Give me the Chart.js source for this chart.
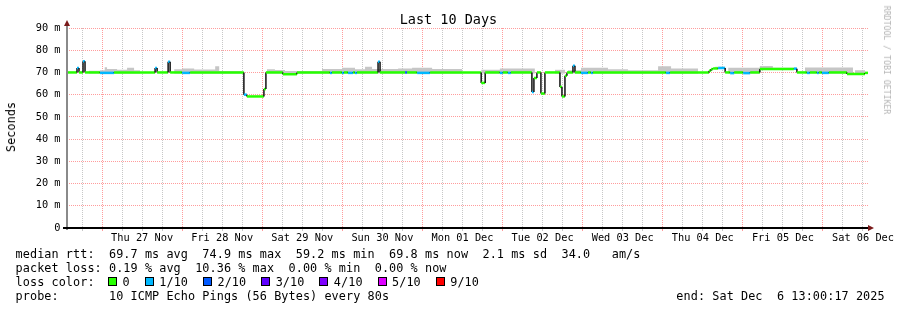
<!DOCTYPE html>
<html><head><meta charset="utf-8">
<script src="https://cdn.jsdelivr.net/npm/chart.js@4/dist/chart.umd.min.js"></script>
<style>
html,body{margin:0;padding:0;background:#fff;}
#wrap{position:relative;width:897px;height:310px;overflow:hidden;background:#fff;}
#c{position:absolute;left:0;top:0;}
.t{position:absolute;font-family:'DejaVu Sans Mono',monospace;white-space:pre;color:#000;letter-spacing:0.08px;}
.box{position:absolute;width:7px;height:7px;border:1px solid #000;}
</style></head><body>
<div id="wrap">
<canvas id="c" width="897" height="310"></canvas>
<div class="t" id="title" style="left:0;width:897px;top:11px;text-align:center;font-size:13.5px;line-height:16px;letter-spacing:0;">Last 10 Days</div>
<div class="t" id="ytitle" style="left:11px;top:127px;font-size:11.8px;line-height:14px;transform:translate(-50%,-50%) rotate(-90deg);">Seconds</div>
<div class="t" id="credit" style="left:887px;top:60px;font-size:8.2px;line-height:10px;color:#b4b4b4;letter-spacing:0;transform:translate(-50%,-50%) rotate(90deg);">RRDTOOL / TOBI OETIKER</div>
<div class="t" id="legend" style="left:15.6px;top:247px;font-size:11.8px;line-height:14px;"></div>
<div id="losslegend"></div>
</div>
<script>
// ---------- data (hours since Thu 27 Nov 00:00) ----------
const dayLabels = ['Thu 27 Nov','Fri 28 Nov','Sat 29 Nov','Sun 30 Nov','Mon 01 Dec','Tue 02 Dec','Wed 03 Dec','Thu 04 Dec','Fri 05 Dec','Sat 06 Dec'];
const yTickLabels = ['0','10 m','20 m','30 m','40 m','50 m','60 m','70 m','80 m','90 m'];
const timeStart = -10.5, timeEnd = 229.5;

// median rtt (ms) step runs: start hour, value, lost pings out of 10
const medStart = [-10.5,-7.5,-6.9,-5.7,-5.1,-0.6,3.6,15.9,16.5,19.8,20.4,24.0,26.4,42.5,43.4,48.5,49.1,54.2,58.4,68.3,68.9,71.9,72.5,73.7,75.2,75.8,76.4,82.7,83.3,90.8,91.4,94.4,98.3,113.6,114.8,119.2,120.1,121.6,122.5,128.8,129.4,130.3,131.5,132.7,137.2,137.8,138.7,139.3,141.1,141.7,143.5,145.6,146.5,147.1,169.0,170.2,181.9,182.5,183.1,184.6,186.7,188.2,189.4,192.1,194.2,197.1,207.3,208.2,211.2,212.1,214.2,214.8,215.7,217.8,223.2,228.6];
const medValue = [70,72,70,75,70,69.8,70,72,70,74.8,70,69.8,70,60,59.2,62.5,70,69.2,70,69.8,70,69.8,70,69.8,70,69.8,70,74.8,70,70,70,69.8,70,65.3,70,69.8,70,69.8,70,61.2,67.5,70,60.5,70,63.5,59.2,68.5,70,73,70,69.8,70,69.8,70,69.8,70,70.8,71.5,71.8,72,70,69.7,70,69.7,70,71.5,71.7,70,69.8,70,69.8,70,69.8,70,69.3,69.8];
const medLoss  = [0,1,0,1,0,1,0,1,0,1,0,1,0,1,0,0,0,0,0,1,0,1,0,1,0,1,0,1,0,2,0,1,0,0,0,1,0,1,0,1,0,0,0,0,0,0,0,0,1,0,1,0,1,0,1,0,0,0,0,1,0,1,0,1,0,0,1,0,1,0,1,0,1,0,0,0];

// smoke (spread of the 10 pings): run start/end hour, low and high ms
const smokeStart = [-4.0,-0.6,0.8,1.5,4.5,7.5,9.6,21.6,24.0,27.6,33.9,35.1,49.4,51.8,54.8,65.9,71.9,75.8,78.8,80.9,88.7,92.9,98.9,113.6,119.2,135.7,139.6,143.5,151.6,157.6,166.6,170.5,183.7,187.6,197.1,201.0,210.6,225.6];
const smokeEnd   = [-0.6,0.8,1.5,4.5,7.5,9.6,11.4,24.0,27.6,33.9,35.1,41.9,51.8,54.8,65.9,71.9,75.8,78.8,80.9,88.7,92.9,98.9,107.9,119.2,129.7,138.7,143.5,151.6,157.6,166.6,170.5,178.6,186.7,197.1,201.0,208.2,225.0,228.6];
const smokeLow   = [69.5,69.5,69.5,69.5,69.5,69.5,69.5,69.5,69.5,69.5,69.5,69.5,69.5,69.5,69.5,69.5,69.5,69.5,69.5,69.5,69.5,69.5,69.5,69.5,69.5,69.5,69.5,69.5,69.5,69.5,69.5,69.5,71.8,69.5,71.5,71.5,69.5,69.5];
const smokeHigh  = [70.8,71.0,72.3,71.5,71.2,72.1,71.0,71.4,71.8,71.3,72.8,70.6,71.4,71.1,70.6,71.5,72.1,71.4,72.6,71.5,71.8,72.1,71.5,71.2,71.8,71.2,71.0,72.1,71.4,71.0,72.8,71.8,72.6,72.1,72.9,72.1,72.2,71.0];

const lossLabels = ['0','1/10','2/10','3/10','4/10','5/10','9/10'];
const lossColors = ['#26ff00','#00b8ff','#0059ff','#5e00ff','#7e00ff','#dd00ff','#ff0000'];
const lossColorByCount = {0:'#26ff00',1:'#00b8ff',2:'#0059ff',3:'#5e00ff',4:'#7e00ff',5:'#dd00ff',9:'#ff0000'};

const statsLines = [
  'median rtt:  69.7 ms avg  74.9 ms max  59.2 ms min  69.8 ms now  2.1 ms sd  34.0   am/s',
  'packet loss: 0.19 % avg  10.36 % max  0.00 % min  0.00 % now',
  'loss color:',
  'probe:       10 ICMP Echo Pings (56 Bytes) every 80s                                        end: Sat Dec  6 13:00:17 2025'
];

// ---------- text ----------
document.getElementById('legend').textContent = statsLines.join('\n');
(function(){
  const host = document.getElementById('losslegend');
  let x = 108;
  lossLabels.forEach((lab, i) => {
    const b = document.createElement('div');
    b.className = 'box'; b.style.left = x + 'px'; b.style.top = '277px'; b.style.background = lossColors[i];
    host.appendChild(b);
    const t = document.createElement('div');
    t.className = 't'; t.style.left = (x + 14.5) + 'px'; t.style.top = '275px';
    t.style.fontSize = '11.8px'; t.style.lineHeight = '14px'; t.textContent = lab;
    host.appendChild(t);
    x += 29.7 + lab.length * 7.12;
  });
})();

// ---------- build series ----------
const medPts = [];
medStart.forEach((s, i) => {
  const e = i + 1 < medStart.length ? medStart[i + 1] : timeEnd;
  medPts.push({x: s, y: medValue[i], loss: medLoss[i]});
  medPts.push({x: e, y: medValue[i], loss: medLoss[i]});
});
function smokeLine(vals){
  const pts = [];
  smokeStart.forEach((s, i) => {
    if (i > 0 && s > smokeEnd[i - 1]) pts.push({x: (smokeEnd[i - 1] + s) / 2, y: null});
    pts.push({x: s, y: vals[i]}, {x: smokeEnd[i], y: vals[i]});
  });
  return pts;
}

const MAJ = 'rgba(255,90,90,0.6)', MIN = 'rgba(130,130,130,0.45)';
const TICKFONT = {family: "'DejaVu Sans Mono', monospace", size: 10.3};

const axesPlugin = {
  id: 'axesDecor',
  afterDatasetsDraw(chart){
    const {ctx, chartArea: a} = chart;
    ctx.save();
    ctx.strokeStyle = '#8a8a8a'; ctx.lineWidth = 2;
    ctx.beginPath(); ctx.moveTo(a.left, a.bottom + 2); ctx.lineTo(a.left, a.top - 4); ctx.stroke();
    ctx.strokeStyle = '#000'; ctx.lineWidth = 2;
    ctx.beginPath(); ctx.moveTo(a.left - 4, a.bottom); ctx.lineTo(a.right + 2, a.bottom); ctx.stroke();
    ctx.fillStyle = '#7a1a1a';
    ctx.beginPath(); ctx.moveTo(a.left, a.top - 8); ctx.lineTo(a.left - 3, a.top - 2); ctx.lineTo(a.left + 3, a.top - 2); ctx.closePath(); ctx.fill();
    ctx.beginPath(); ctx.moveTo(a.right + 6, a.bottom); ctx.lineTo(a.right, a.bottom - 3); ctx.lineTo(a.right, a.bottom + 3); ctx.closePath(); ctx.fill();
    ctx.restore();
  }
};

new Chart(document.getElementById('c'), {
  type: 'line',
  data: {
    datasets: [
      {
        label: 'median rtt', data: medPts, borderWidth: 2, pointRadius: 0, tension: 0, fill: false,
        borderColor: '#26ff00',
        segment: {
          borderColor: ctx => ctx.p0DataIndex % 2 === 0 ? lossColorByCount[medPts[ctx.p0DataIndex].loss] : '#111',
          borderWidth: ctx => ctx.p0DataIndex % 2 === 0 ? 2.5 : 1.5
        }
      },
      {
        label: 'smoke high', data: smokeLine(smokeHigh), borderWidth: 0, pointRadius: 0, tension: 0,
        fill: '+1', backgroundColor: '#c6c6c6', borderColor: 'rgba(0,0,0,0)'
      },
      {
        label: 'smoke low', data: smokeLine(smokeLow), borderWidth: 0, pointRadius: 0, tension: 0,
        fill: false, borderColor: 'rgba(0,0,0,0)'
      }
    ]
  },
  options: {
    responsive: false, animation: false, parsing: true,
    layout: {padding: {left: 0, top: 28, right: 29, bottom: 62}},
    plugins: {legend: {display: false}, tooltip: {enabled: false}, title: {display: false}},
    scales: {
      x: {
        type: 'linear', min: timeStart, max: timeEnd,
        afterFit: s => { s.height = 20; },
        afterBuildTicks: s => { const t = []; for (let v = -6; v <= 228; v += 6) t.push({value: v}); s.ticks = t; },
        grid: {
          color: c => (c.tick && c.tick.value % 24 === 0) ? MAJ : MIN,
          tickColor: c => (c.tick && c.tick.value % 24 === 0) ? MAJ : MIN,
          tickLength: 3, lineWidth: 1
        },
        border: {display: false, dash: [1, 1]},
        ticks: {
          autoSkip: false, maxRotation: 0, minRotation: 0, padding: 1, color: '#000', font: TICKFONT,
          callback: v => ((v - 12) % 24 === 0 ? dayLabels[(v - 12) / 24] : '')
        }
      },
      y: {
        min: 0, max: 90,
        afterFit: s => { s.width = 67; },
        afterBuildTicks: s => { const t = []; for (let v = 0; v <= 90; v += 5) t.push({value: v}); s.ticks = t; },
        grid: {
          color: c => (c.tick && c.tick.value % 10 === 0) ? MAJ : MIN,
          drawTicks: false, lineWidth: 1
        },
        border: {display: false, dash: [1, 1]},
        ticks: {
          padding: 6.5, color: '#000', font: TICKFONT,
          callback: v => (v % 10 === 0 ? yTickLabels[v / 10] : '')
        }
      }
    }
  },
  plugins: [axesPlugin]
});
</script>
</body></html>
